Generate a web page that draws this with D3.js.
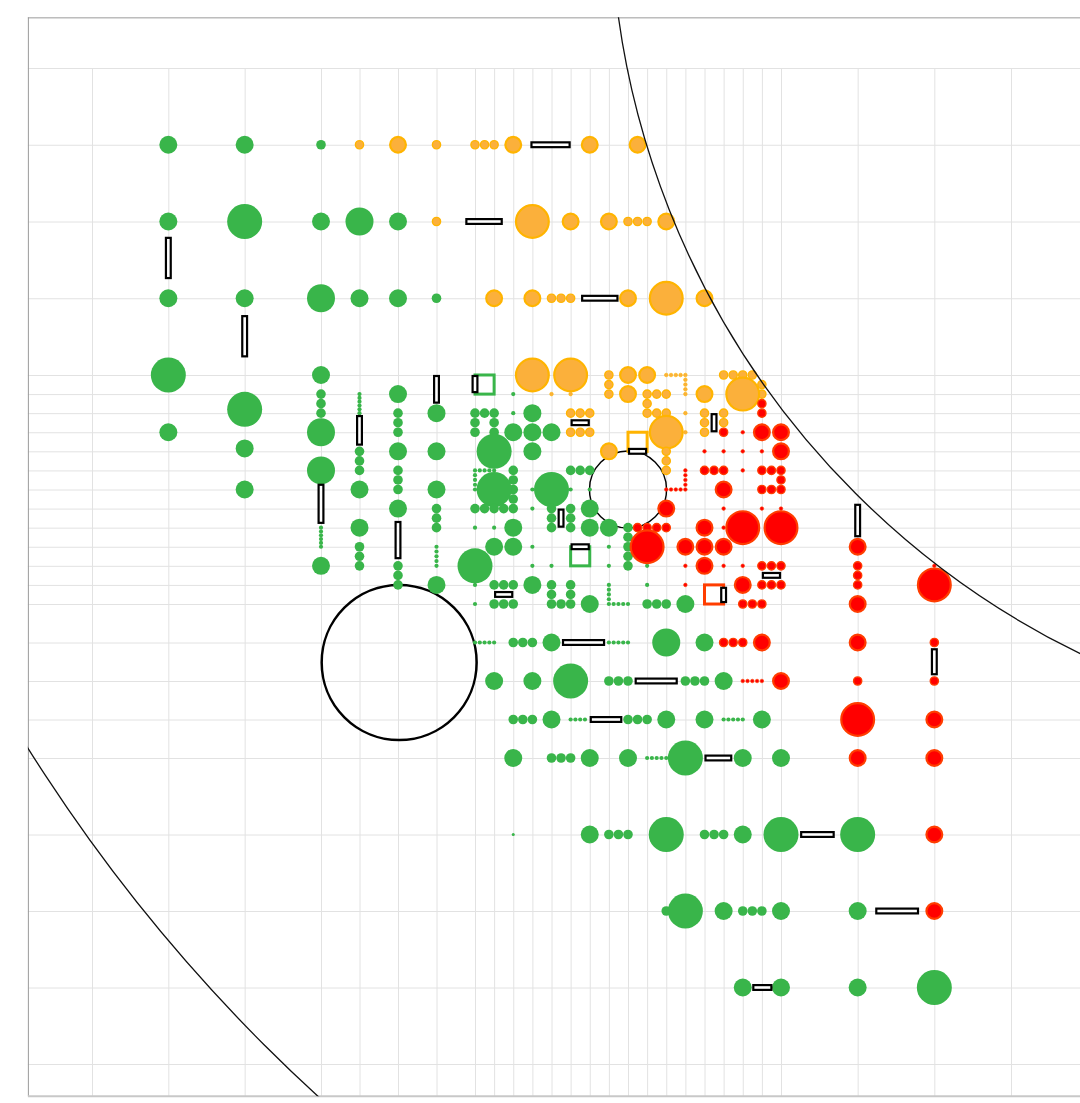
<!DOCTYPE html>
<html>
<head>
<meta charset="utf-8">
<script src="https://cdn.jsdelivr.net/npm/d3@7"></script>
<style>
  html, body { margin: 0; padding: 0; background: #fff; overflow: hidden; }
  svg { display: block; }
</style>
</head>
<body>
<div id="chart"></div>
<script>

var W = 1080, H = 1103;

// grid: each integer is one grid line (columns / rows)
var xTicks = d3.range(0, 27);
var yTicks = d3.range(0, 25);

// plot frame in grid units (left, top, right, bottom)
var frame = [-0.84, -0.66, 27, 24.42];

// dots: [column, row, weight]  weight 0..5 (tiny -> huge)
var greenDots = [
	[1,1,3],[2,1,3],[3,1,2],
	[1,2,3],[2,2,5],[3,2,3],[4,2,4],[5,2,3],
	[1,3,3],[2,3,3],[3,3,4],[4,3,3],[5,3,3],[6,3,2],
	[1,4,5],[1,7,3],[2,5.8,5],[2,7.85,3],[2,10,3],
	[3,4,3],[3,5,2],[3,5.5,2],[3,6,2],[3,7,4],[3,9,4],
	[3,12,1],[3,12.2,1],[3,12.4,1],[3,12.6,1],[3,12.8,1],[3,13,1],[3,14,3],
	[4,5,1],[4,5.2,1],[4,5.4,1],[4,5.6,1],[4,5.8,1],[4,6,1],
	[4,8,2],[4,8.5,2],[4,9,2],[4,10,3],[4,12,3],[4,13,2],[4,13.5,2],[4,14,2],
	[5,5,3],[5,6,2],[5,6.5,2],[5,7,2],[5,8,3],[5,9,2],[5,9.5,2],[5,10,2],[5,11,3],
	[5,14,2],[5,14.5,2],[5,15,2],
	[6,6,3],[6,8,3],[6,10,3],[6,11,2],[6,11.5,2],[6,12,2],
	[6,13,1],[6,13.25,1],[6,13.5,1],[6,13.75,1],[6,14,1],[6,15,3],
	[9,5,1],
	[7,6,2],[7.5,6,2],[8,6,2],[9,6,1],[10,6,3],
	[7,6.5,2],[8,6.5,2],
	[7,7,2],[8,7,2],[9,7,3],[10,7,3],[11,7,3],
	[8,8,5],[10,8,3],
	[7,9,1],[7.25,9,1],[7.5,9,1],[7.75,9,1],[8,9,1],[7,9.25,1],[7,9.5,1],[7,9.75,1],[7,10,1],
	[9,9,2],[9,9.5,2],[9,10,2],[9,10.5,2],
	[12,9,2],[12.5,9,2],[13,9,2],
	[8,10,5],[10,10,1],[11,10,5],[12,10,1],[13,10,1],
	[7,11,2],[7.5,11,2],[8,11,2],[8.5,11,2],[9,11,2],[10,11,1],
	[11,11,2],[11,11.5,2],[11,12,2],[12,11,2],[12,11.5,2],[12,12,2],[13,11,3],
	[7,12,1],[8,12,1],[9,12,3],[13,12,3],[14,12,3],
	[15,12,2],[15,12.5,2],[15,13,2],[15,13.5,2],[15,14,2],
	[8,13,3],[9,13,3],[10,13,1],[14,13,1],
	[7,14,5],[10,14,1],[11,14,1],[14,14,1],[16,14,1],
	[7,15,1],[8,15,2],[8.5,15,2],[9,15,2],[10,15,3],[11,15,2],[11,15.5,2],[12,15,2],[12,15.5,2],
	[14,15,1],[14,15.25,1],[14,15.5,1],[14,15.75,1],[14,16,1],[14.25,16,1],[14.5,16,1],[14.75,16,1],[15,16,1],
	[16,15,1],
	[7,16,1],[8,16,2],[8.5,16,2],[9,16,2],[11,16,2],[11.5,16,2],[12,16,2],[13,16,3],
	[16,16,2],[16.5,16,2],[17,16,2],[18,16,3],
	[7,17,1],[7.25,17,1],[7.5,17,1],[7.75,17,1],[8,17,1],[9,17,2],[9.5,17,2],[10,17,2],[11,17,3],
	[14,17,1],[14.25,17,1],[14.5,17,1],[14.75,17,1],[15,17,1],[17,17,4],[19,17,3],
	[8,18,3],[10,18,3],[12,18,5],[14,18,2],[14.5,18,2],[15,18,2],[18,18,2],[18.5,18,2],[19,18,2],[20,18,3],
	[9,19,2],[9.5,19,2],[10,19,2],[11,19,3],[12,19,1],[12.25,19,1],[12.5,19,1],[12.75,19,1],
	[15,19,2],[15.5,19,2],[16,19,2],[17,19,3],[19,19,3],
	[20,19,1],[20.25,19,1],[20.5,19,1],[20.75,19,1],[21,19,1],[22,19,3],
	[9,20,3],[11,20,2],[11.5,20,2],[12,20,2],[13,20,3],[15,20,3],
	[16,20,1],[16.25,20,1],[16.5,20,1],[16.75,20,1],[17,20,1],[18,20,5],[21,20,3],[23,20,3],
	[9,21,0],[13,21,3],[14,21,2],[14.5,21,2],[15,21,2],[17,21,5],[19,21,2],[19.5,21,2],[20,21,2],
	[21,21,3],[23,21,5],[24,21,5],
	[17,22,2],[18,22,5],[20,22,3],[21,22,2],[21.5,22,2],[22,22,2],[23,22,3],[24,22,3],
	[21,23,3],[23,23,3],[24,23,3],[25,23,5]
];

var orangeDots = [
	[4,1,2],[5,1,3],[6,1,2],[7,1,2],[7.5,1,2],[8,1,2],[9,1,3],[13,1,3],[15.5,1,3],
	[6,2,2],[10,2,5],[12,2,3],[14,2,3],[15,2,2],[15.5,2,2],[16,2,2],[17,2,3],
	[8,3,3],[10,3,3],[11,3,2],[11.5,3,2],[12,3,2],[15,3,3],[17,3,5],[19,3,3],
	[10,4,5],[12,4,5],[14,4,2],[14,4.5,2],[14,5,2],[15,4,3],[16,4,3],
	[17,4,1],[17.25,4,1],[17.5,4,1],[17.75,4,1],[18,4,1],[18,4.25,1],[18,4.5,1],[18,4.75,1],[18,5,1],
	[20,4,2],[20.5,4,2],[21,4,2],[21.5,4,2],[22,4.5,2],[22,5,2],
	[11,5,1],[12,5,1],[15,5,3],[16,5,2],[16.5,5,2],[17,5,2],[19,5,3],[21,5,5],
	[16,5.5,2],
	[12,6,2],[12.5,6,2],[13,6,2],[16,6,2],[16.5,6,2],[17,6,2],[18,6,1],
	[19,6,2],[19,6.5,2],[19,7,2],[20,6,2],[20,6.5,2],
	[12,7,2],[12.5,7,2],[13,7,2],[17,7,5],[18,7,1],
	[14,8,3],[17,8,2],[17,8.5,2],[17,9,2]
];

var redDots = [
	[22,5.5,2],[22,6,2],[20,7,2],
	[21,7,1],[22,7,3],[23,7,3],
	[19,8,1],[20,8,1],[21,8,1],[22,8,1],[23,8,3],
	[19,9,2],[19.5,9,2],[20,9,2],[21,9,1],[22,9,2],[22.5,9,2],[23,9,2],[23,9.5,2],
	[18,9,1],[18,9.25,1],[18,9.5,1],[18,9.75,1],[18,10,1],[17,10,1],[17.25,10,1],[17.5,10,1],[17.75,10,1],
	[20,10,3],[22,10,2],[22.5,10,2],[23,10,2],
	[17,11,3],[20,11,1],[22,11,1],[23,11,1],
	[15.5,12,2],[16,12,2],[16.5,12,2],[17,12,2],[19,12,3],[20,12,1],[21,12,5],[23,12,5],
	[16,13,5],[18,13,3],[19,13,3],[20,13,3],[24,13,3],
	[18,14,1],[19,14,3],[20,14,1],[21,14,1],[22,14,2],[22.5,14,2],[23,14,2],
	[24,14,2],[24,14.5,2],[24,15,2],[25,14,1],
	[18,15,1],[21,15,3],[22,15,2],[22.5,15,2],[23,15,2],[25,15,5],
	[21,16,2],[21.5,16,2],[22,16,2],[24,16,3],
	[20,17,2],[20.5,17,2],[21,17,2],[22,17,3],[24,17,3],[25,17,2],
	[21,18,1],[21.25,18,1],[21.5,18,1],[21.75,18,1],[22,18,1],[23,18,3],[24,18,2],[25,18,2],
	[24,19,5],[25,19,3],
	[24,20,3],[25,20,3],
	[25,21,3],[25,22,3]
];

// black bars: [x0, y0, x1, y1]
var bars = [
	[9.9,1,12,1],[6.75,2,8.45,2],[12.55,3,14.5,3],
	[1,2.2,1,2.75],[2,3.22,2,3.77],
	[3,9.7,3,11.8],[4,6.1,4,7.7],[5,11.65,5,13.65],[6,4,6,5.5],[7,4,7,4.95],
	[11.5,11,11.5,12],[19.5,6,19.5,7],
	[12,6.5,13,6.5],[15,8,16,8],[12,13,13,13],[8,15.5,9,15.5],[22,14.5,23,14.5],
	[20,15.1,20,15.95],[24,10.75,24,12.5],[25,17.15,25,17.85],
	[11.55,17,13.8,17],[15.35,18,17.6,18],[13,19,14.7,19],[19,20,20.45,20],
	[23.25,21,23.7,21],[24.23,22,24.8,22],[21.5,23,22.55,23]
];

// hollow squares: [x, y, colour]
var squares = [[7.5,4.5,"g"],[15.5,7.5,"o"],[12.5,13.5,"g"],[19.5,15.5,"r"]];

// open rings: [cx, cy, radius, weight]  (radius in outer grid units)
var rings = [[5.03,17.52,1.015,2.5],[15,10,0.505,1.4]];

// big arcs: [cx, cy, radius]
var arcs = [[31.68,-2.16,10.95],[31.76,-2.76,22.02]];


/*
 *	SCALES
 */
var xScale = d3.scaleLinear().domain([0,3,7,23,26]).range([92,321,475,781,1011]);
var yScale = d3.scaleLinear().domain([0,4,16,20,24]).range([68,375,604,758,1064]);
var unit = xScale(1) - xScale(0);

var rScale = d3.scaleOrdinal().domain([0,1,2,3,4,5]).range([1.5,2.1,4.8,9,14,17.5]);
var fill = { g: "#39b54a", o: "#fbb03b", r: "#ff0000" };
var edge = { g: "#39b54a", o: "#ffb400", r: "#ff3d00" };

var svg = d3.select("#chart").append("svg")
	.attr("width", W)
	.attr("height", H);

// clip to the plot frame (arcs are cut at its edges)
svg.append("clipPath").attr("id", "frameClip")
	.append("rect")
		.attr("x", xScale(frame[0]))
		.attr("y", yScale(frame[1]))
		.attr("width", xScale(frame[2]) - xScale(frame[0]))
		.attr("height", yScale(frame[3]) - yScale(frame[1]));

var g = svg.append("g");

// grid lines
g.selectAll("line.vgrid")
	.data(xTicks).enter()
	.append("line")
		.attr("class", "vgrid")
		.attr("x1", function(d){ return xScale(d) + .5 })
		.attr("x2", function(d){ return xScale(d) + .5 })
		.attr("y1", yScale(0))
		.attr("y2", yScale(frame[3]))
		.attr("stroke", "#e2e2e2");

g.selectAll("line.hgrid")
	.data(yTicks).enter()
	.append("line")
		.attr("class", "hgrid")
		.attr("x1", xScale(frame[0]))
		.attr("x2", xScale(frame[2]))
		.attr("y1", function(d){ return yScale(d) + .5 })
		.attr("y2", function(d){ return yScale(d) + .5 })
		.attr("stroke", "#e2e2e2");

// frame
g.append("line")
	.attr("x1", xScale(frame[0]) + .5).attr("x2", xScale(frame[0]) + .5)
	.attr("y1", yScale(frame[1])).attr("y2", yScale(frame[3]))
	.attr("stroke", "#9a9a9a");
g.append("line")
	.attr("x1", xScale(frame[0])).attr("x2", xScale(frame[2]))
	.attr("y1", yScale(frame[1]) + .5).attr("y2", yScale(frame[1]) + .5)
	.attr("stroke", "#9a9a9a");
g.append("line")
	.attr("x1", xScale(frame[0])).attr("x2", xScale(frame[2]))
	.attr("y1", yScale(frame[3])).attr("y2", yScale(frame[3]))
	.attr("stroke", "#c8c8c8").attr("stroke-width", 2);

// rings
g.selectAll("circle.ring")
	.data(rings).enter()
	.append("circle")
		.attr("class", "ring")
		.attr("cx", function(d){ return xScale(d[0]) })
		.attr("cy", function(d){ return yScale(d[1]) })
		.attr("r", function(d){ return d[2] * unit })
		.attr("fill", "none")
		.attr("stroke", "#000")
		.attr("stroke-width", function(d){ return d[3] });

// dots
function drawDots(data, c){
	var sw = function(d){ return c == "g" ? 0 : (d[2] >= 3 ? 2.2 : (d[2] == 2 ? 1.4 : .6)) };
	g.selectAll("circle.dot-" + c)
		.data(data).enter()
		.append("circle")
			.attr("class", "dot-" + c)
			.attr("cx", function(d){ return xScale(d[0]) })
			.attr("cy", function(d){ return yScale(d[1]) })
			.attr("r", function(d){ return rScale(d[2]) - sw(d) / 2 })
			.attr("fill", fill[c])
			.attr("stroke", c == "g" ? "none" : edge[c])
			.attr("stroke-width", sw);
}
drawDots(greenDots, "g");
drawDots(orangeDots, "o");
drawDots(redDots, "r");

// hollow squares
var half = (xScale(8) - xScale(7)) / 2;
g.selectAll("rect.sq")
	.data(squares).enter()
	.append("rect")
		.attr("class", "sq")
		.attr("x", function(d){ return xScale(d[0]) - half })
		.attr("y", function(d){ return yScale(d[1]) - half })
		.attr("width", half * 2)
		.attr("height", half * 2)
		.attr("fill", "none")
		.attr("stroke", function(d){ return edge[d[2]] })
		.attr("stroke-width", 3);

// black bars
var t = 2.4;
g.selectAll("rect.bar")
	.data(bars).enter()
	.append("rect")
		.attr("class", "bar")
		.attr("x", function(d){ return d[0] == d[2] ? xScale(d[0]) - t : xScale(d[0]) + 1 })
		.attr("y", function(d){ return d[1] == d[3] ? yScale(d[1]) - t : yScale(d[1]) + 1 })
		.attr("width", function(d){ return d[0] == d[2] ? t * 2 : xScale(d[2]) - xScale(d[0]) - 2 })
		.attr("height", function(d){ return d[1] == d[3] ? t * 2 : yScale(d[3]) - yScale(d[1]) - 2 })
		.attr("fill", "#fff")
		.attr("stroke", "#000")
		.attr("stroke-width", 2.2);

// big arcs, clipped to the frame
g.append("g")
	.attr("clip-path", "url(#frameClip)")
	.selectAll("circle.arc")
	.data(arcs).enter()
	.append("circle")
		.attr("class", "arc")
		.attr("cx", function(d){ return xScale(d[0]) })
		.attr("cy", function(d){ return yScale(d[1]) })
		.attr("r", function(d){ return d[2] * unit })
		.attr("fill", "none")
		.attr("stroke", "#111")
		.attr("stroke-width", 1.3);

</script>
</body>
</html>
